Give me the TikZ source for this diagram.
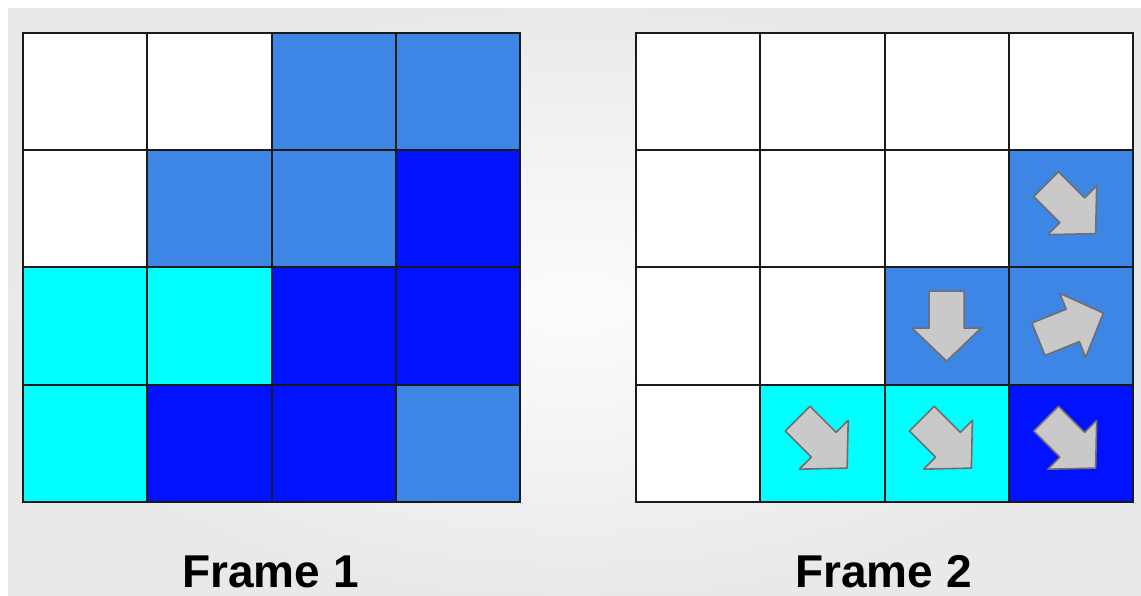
\documentclass[tikz,border=0pt]{standalone}
\usepackage{fontspec}
\setmainfont{Liberation Sans}
\usepackage{tikz}
\usetikzlibrary{positioning}
\definecolor{gridline}{HTML}{1A1A1A}
\definecolor{lightblue}{HTML}{3E86E6}
\definecolor{deepblue}{HTML}{0012FF}
\definecolor{brightcyan}{HTML}{00FFFF}
\definecolor{arrowfill}{HTML}{C9C9C9}
\definecolor{arrowline}{HTML}{6E6E6E}

\begin{document}
\begin{tikzpicture}[
  x=1pt, y=1pt,
  cell/.style={rectangle, draw=gridline, line width=2pt, inner sep=0pt,
    minimum width=124.25pt, minimum height=117.25pt, anchor=north west},
  cellW/.style={cell, fill=white},
  cellL/.style={cell, fill=lightblue},
  cellD/.style={cell, fill=deepblue},
  cellC/.style={cell, fill=brightcyan},
  lbl/.style={font=\fontsize{46}{50}\selectfont\bfseries, anchor=base, inner sep=0pt},
  mvarrow/.pic={
    \draw[fill=arrowfill, draw=arrowline, line width=1.6pt, line join=round]
      (-35,-17.5) -- (2,-17.5) -- (2,-34.5) -- (35,0) -- (2,34.5)
      -- (2,17.5) -- (-35,17.5) -- cycle;
  },
]
\useasboundingbox[fill=white] (0,0) rectangle (1141,596);
\shade[inner color=gray!2, outer color=gray!17] (8,0) rectangle (1141,587);

% frame 1
\foreach \row [count=\r from 0] in {{W,W,L,L},{W,L,L,D},{C,C,D,D},{C,D,D,L}}
  \foreach \col [count=\c from 0] in \row
    \node[cell\col] (f1-\r-\c) at (22+\c*124.25, 564-\r*117.25) {};

% frame 2
\foreach \row [count=\r from 0] in {{W,W,W,W},{W,W,W,L},{W,W,L,L},{W,C,C,D}}
  \foreach \col [count=\c from 0] in \row
    \node[cell\col] (f2-\r-\c) at (635+\c*124.25, 564-\r*117.25) {};

% motion arrows
\pic[rotate=-45] at (f2-1-3) {mvarrow};
\pic[rotate=-90] at (f2-2-2) {mvarrow};
\pic[rotate=22] at (f2-2-3) {mvarrow};
\foreach \c in {1,2,3}
  \pic[rotate=-45] at (f2-3-\c) {mvarrow};

\node[lbl] (cap1) at (270.5,8) {Frame 1};
\node[lbl] (cap2) at (883.5,8) {Frame 2};
\end{tikzpicture}
\end{document}
